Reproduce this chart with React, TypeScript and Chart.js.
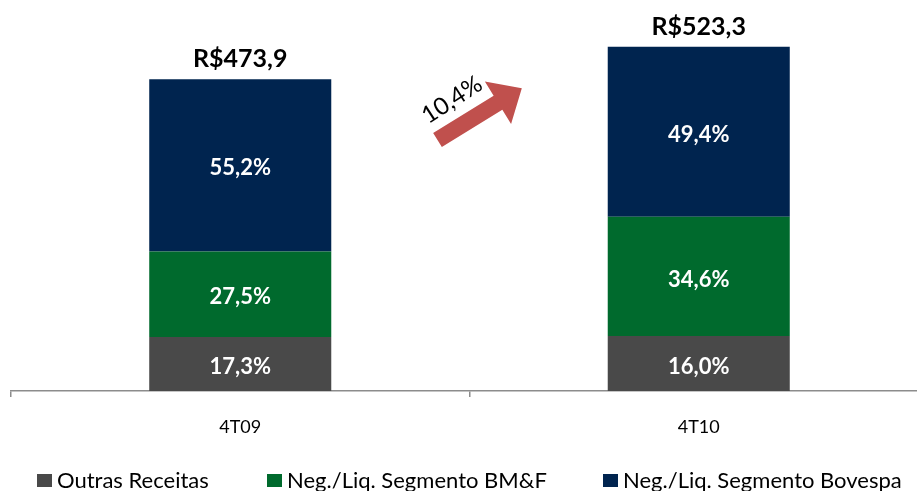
import React, { useEffect, useRef } from "react";
import { Chart, registerables } from "chart.js";

Chart.register(...registerables);

const categories = ["4T09", "4T10"];
const seriesNames = ["Outras Receitas", "Neg./Liq. Segmento BM&F", "Neg./Liq. Segmento Bovespa"];
const outrasReceitas = [82.0, 83.7];
const segmentoBMF = [130.3, 181.1];
const segmentoBovespa = [261.6, 258.5];
const outrasPct = ["17,3%", "16,0%"];
const bmfPct = ["27,5%", "34,6%"];
const bovespaPct = ["55,2%", "49,4%"];
const totalLabels = ["R$473,9", "R$523,3"];
const growthLabel = "10,4%";

const COLORS = ["#494949", "#006A2D", "#00244F"];
const FONT = "Lato";

const labelPlugin = {
  id: "customLabels",
  afterDatasetsDraw(chart: any) {
    const ctx = chart.ctx as CanvasRenderingContext2D;
    const pcts = [outrasPct, bmfPct, bovespaPct];
    ctx.save();
    ctx.font = `bold 22px ${FONT}`;
    ctx.fillStyle = "#ffffff";
    ctx.textAlign = "center";
    ctx.textBaseline = "middle";
    chart.data.datasets.forEach((_ds: any, i: number) => {
      const meta = chart.getDatasetMeta(i);
      meta.data.forEach((bar: any, j: number) => {
        const p = bar.getProps(["x", "y", "base"], true);
        ctx.fillText(pcts[i][j], p.x, (p.y + p.base) / 2 + 3);
      });
    });
    const topMeta = chart.getDatasetMeta(chart.data.datasets.length - 1);
    ctx.fillStyle = "#000000";
    ctx.font = `bold 25px ${FONT}`;
    ctx.textBaseline = "alphabetic";
    topMeta.data.forEach((bar: any, j: number) => {
      ctx.fillText(totalLabels[j], bar.x, bar.y - 12);
    });

    // growth arrow
    const tailX = 437.5, tailY = 140;
    const ang = -31.6 * Math.PI / 180;
    const L = 99, headLen = 28, shaftHalf = 8.3, headHalf = 25;
    ctx.save();
    ctx.translate(tailX, tailY);
    ctx.rotate(ang);
    ctx.fillStyle = "#C0504D";
    ctx.beginPath();
    ctx.moveTo(0, -shaftHalf);
    ctx.lineTo(L - headLen, -shaftHalf);
    ctx.lineTo(L - headLen, -headHalf);
    ctx.lineTo(L, 0);
    ctx.lineTo(L - headLen, headHalf);
    ctx.lineTo(L - headLen, shaftHalf);
    ctx.lineTo(0, shaftHalf);
    ctx.closePath();
    ctx.fill();
    ctx.restore();

    ctx.save();
    ctx.translate(452, 100);
    ctx.rotate(-33 * Math.PI / 180);
    ctx.fillStyle = "#000000";
    ctx.font = `24px ${FONT}`;
    ctx.textAlign = "center";
    ctx.textBaseline = "middle";
    ctx.fillText(growthLabel, 0, 0);
    ctx.restore();

    ctx.restore();
  },
};

export default function App() {
  const ref = useRef<HTMLCanvasElement | null>(null);

  useEffect(() => {
    if (!ref.current) return;
    const values = [outrasReceitas, segmentoBMF, segmentoBovespa];
    const chart = new Chart(ref.current, {
      type: "bar",
      data: {
        labels: categories,
        datasets: seriesNames.map((name, i) => ({
          label: name,
          data: values[i],
          backgroundColor: COLORS[i],
          borderWidth: 0,
          categoryPercentage: 1,
          barPercentage: 0.397,
        })),
      },
      options: {
        responsive: false,
        animation: false,
        layout: { padding: { left: 11, right: 0, top: 3, bottom: 0 } },
        plugins: {
          legend: { display: false },
          tooltip: { enabled: false },
        },
        scales: {
          x: {
            stacked: true,
            offset: true,
            afterFit: (scale: any) => {
              scale.height = 100;
            },
            grid: {
              offset: true,
              drawOnChartArea: false,
              drawTicks: true,
              tickLength: 6,
              color: "#8c8c8c",
              lineWidth: 1.5,
            },
            border: { color: "#8c8c8c", width: 1.5 },
            ticks: {
              color: "#000000",
              font: { family: FONT, size: 18 },
              padding: 19,
            },
          },
          y: {
            stacked: true,
            display: false,
            min: 0,
            max: 590,
          },
        },
      },
      plugins: [labelPlugin],
    });
    return () => chart.destroy();
  }, []);

  const legendLeft = [37, 267, 603];

  return (
    <div
      style={{
        position: "fixed",
        top: 0,
        left: 0,
        width: 917,
        height: 491,
        overflow: "hidden",
        background: "#ffffff",
      }}
    >
      <canvas ref={ref} width={928} height={491} style={{ width: 928, height: 491, display: "block" }} />
      {seriesNames.map((name, i) => (
        <div
          key={name}
          style={{
            position: "absolute",
            left: legendLeft[i],
            top: 466,
            display: "flex",
            alignItems: "center",
            fontFamily: FONT,
            fontSize: 22,
            lineHeight: "28px",
            color: "#000",
            whiteSpace: "nowrap",
          }}
        >
          <span
            style={{
              display: "inline-block",
              width: 15,
              height: 13,
              background: COLORS[i],
              marginRight: 5,
            }}
          />
          <span>{name}</span>
        </div>
      ))}
    </div>
  );
}
